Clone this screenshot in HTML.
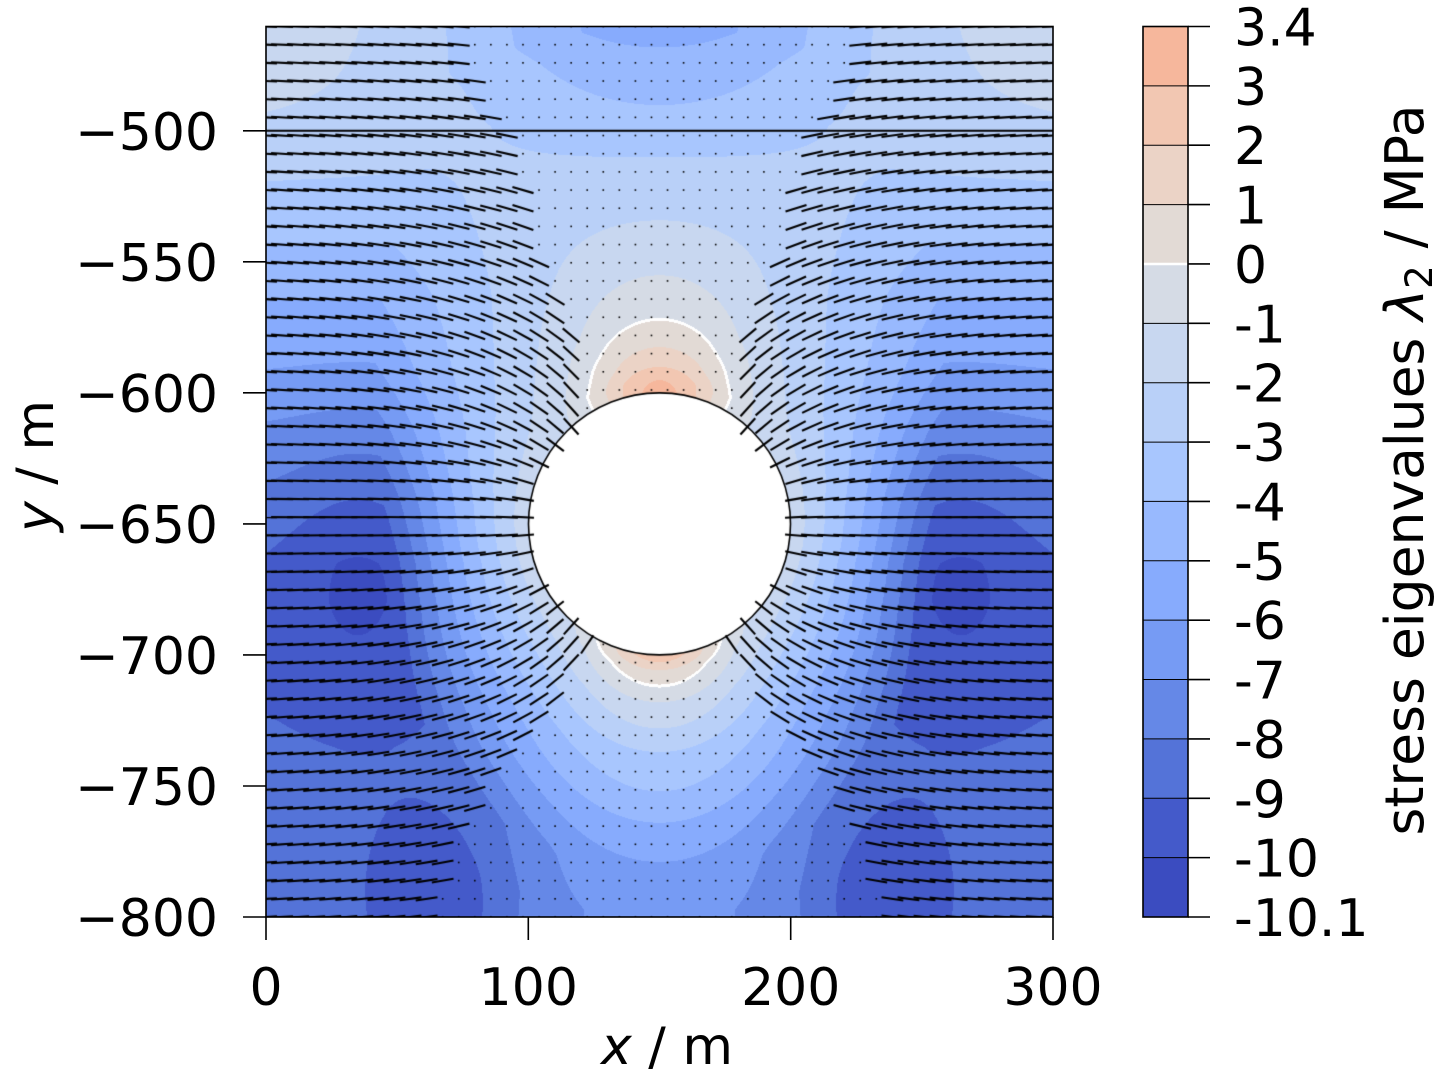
<!DOCTYPE html>
<html><head><meta charset="utf-8">
<style>
html,body{margin:0;padding:0;background:#fff;}
#wrap{position:relative;width:1447px;height:1080px;overflow:hidden;background:#fff;}
#cv{position:absolute;left:266px;top:26px;width:787px;height:891px;background:#8cafFc;}
svg{position:absolute;left:0;top:0;}
text{font-family:"DejaVu Sans","Liberation Sans",sans-serif;font-size:52px;fill:#000;}
</style></head>
<body><div id="wrap">
<canvas id="cv" width="787" height="891"></canvas>
<svg width="1447" height="1080" viewBox="0 0 1447 1080">
<rect x="266" y="26.5" width="787" height="890.5" fill="none" stroke="#000" stroke-width="1.6"/>
<g stroke="#000" stroke-width="1.6">
<line x1="243" y1="130.8" x2="266" y2="130.8"/>
<line x1="243" y1="261.8" x2="266" y2="261.8"/>
<line x1="243" y1="392.8" x2="266" y2="392.8"/>
<line x1="243" y1="523.9" x2="266" y2="523.9"/>
<line x1="243" y1="654.9" x2="266" y2="654.9"/>
<line x1="243" y1="786" x2="266" y2="786"/>
<line x1="243" y1="917" x2="266" y2="917"/>
<line x1="266" y1="917" x2="266" y2="940"/>
<line x1="528.3" y1="917" x2="528.3" y2="940"/>
<line x1="790.7" y1="917" x2="790.7" y2="940"/>
<line x1="1053" y1="917" x2="1053" y2="940"/>
</g>
<g text-anchor="end">
<text x="218" y="149.8">−500</text>
<text x="218" y="280.8">−550</text>
<text x="218" y="411.8">−600</text>
<text x="218" y="542.9">−650</text>
<text x="218" y="673.9">−700</text>
<text x="218" y="805">−750</text>
<text x="218" y="936">−800</text>
</g>
<g text-anchor="middle">
<text x="266" y="1005">0</text>
<text x="528.3" y="1005">100</text>
<text x="790.7" y="1005">200</text>
<text x="1053" y="1005">300</text>
<text x="667" y="1064"><tspan font-style="italic">x</tspan> / m</text>
</g>
<text transform="translate(53,466) rotate(-90)" text-anchor="middle"><tspan font-style="italic">y</tspan> / m</text>

<g>
<rect x="1143" y="26.5" width="45" height="59.37" fill="rgb(246,183,156)"/>
<rect x="1143" y="85.87" width="45" height="59.37" fill="rgb(242,199,178)"/>
<rect x="1143" y="145.23" width="45" height="59.37" fill="rgb(235,211,198)"/>
<rect x="1143" y="204.6" width="45" height="59.37" fill="rgb(226,218,213)"/>
<rect x="1143" y="263.97" width="45" height="59.37" fill="rgb(213,219,229)"/>
<rect x="1143" y="323.33" width="45" height="59.37" fill="rgb(200,215,240)"/>
<rect x="1143" y="382.7" width="45" height="59.37" fill="rgb(185,208,248)"/>
<rect x="1143" y="442.07" width="45" height="59.37" fill="rgb(168,198,254)"/>
<rect x="1143" y="501.43" width="45" height="59.37" fill="rgb(152,185,254)"/>
<rect x="1143" y="560.8" width="45" height="59.37" fill="rgb(135,171,253)"/>
<rect x="1143" y="620.17" width="45" height="59.37" fill="rgb(118,155,244)"/>
<rect x="1143" y="679.53" width="45" height="59.37" fill="rgb(101,136,231)"/>
<rect x="1143" y="738.9" width="45" height="59.37" fill="rgb(84,115,216)"/>
<rect x="1143" y="798.27" width="45" height="59.37" fill="rgb(68,90,202)"/>
<rect x="1143" y="857.63" width="45" height="59.37" fill="rgb(59,76,192)"/>
</g>
<g stroke="#000" stroke-width="1">
<line x1="1143" y1="85.87" x2="1188" y2="85.87"/>
<line x1="1143" y1="145.23" x2="1188" y2="145.23"/>
<line x1="1143" y1="204.6" x2="1188" y2="204.6"/>
<line x1="1143" y1="323.33" x2="1188" y2="323.33"/>
<line x1="1143" y1="382.7" x2="1188" y2="382.7"/>
<line x1="1143" y1="442.07" x2="1188" y2="442.07"/>
<line x1="1143" y1="501.43" x2="1188" y2="501.43"/>
<line x1="1143" y1="560.8" x2="1188" y2="560.8"/>
<line x1="1143" y1="620.17" x2="1188" y2="620.17"/>
<line x1="1143" y1="679.53" x2="1188" y2="679.53"/>
<line x1="1143" y1="738.9" x2="1188" y2="738.9"/>
<line x1="1143" y1="798.27" x2="1188" y2="798.27"/>
<line x1="1143" y1="857.63" x2="1188" y2="857.63"/>
</g>
<line x1="1143" y1="263.97" x2="1188" y2="263.97" stroke="#fff" stroke-width="2.5"/>
<rect x="1143" y="26.5" width="45" height="890.5" fill="none" stroke="#000" stroke-width="1.6"/>
<g stroke="#000" stroke-width="1.6">
<line x1="1188" y1="26.5" x2="1210" y2="26.5"/>
<line x1="1188" y1="85.87" x2="1210" y2="85.87"/>
<line x1="1188" y1="145.23" x2="1210" y2="145.23"/>
<line x1="1188" y1="204.6" x2="1210" y2="204.6"/>
<line x1="1188" y1="263.97" x2="1210" y2="263.97"/>
<line x1="1188" y1="323.33" x2="1210" y2="323.33"/>
<line x1="1188" y1="382.7" x2="1210" y2="382.7"/>
<line x1="1188" y1="442.07" x2="1210" y2="442.07"/>
<line x1="1188" y1="501.43" x2="1210" y2="501.43"/>
<line x1="1188" y1="560.8" x2="1210" y2="560.8"/>
<line x1="1188" y1="620.17" x2="1210" y2="620.17"/>
<line x1="1188" y1="679.53" x2="1210" y2="679.53"/>
<line x1="1188" y1="738.9" x2="1210" y2="738.9"/>
<line x1="1188" y1="798.27" x2="1210" y2="798.27"/>
<line x1="1188" y1="857.63" x2="1210" y2="857.63"/>
<line x1="1188" y1="917" x2="1210" y2="917"/>
</g>
<g text-anchor="start">
<text x="1234" y="45.5">3.4</text>
<text x="1234" y="104.9">3</text>
<text x="1234" y="164.2">2</text>
<text x="1234" y="223.6">1</text>
<text x="1234" y="283">0</text>
<text x="1234" y="342.3">-1</text>
<text x="1234" y="401.7">-2</text>
<text x="1234" y="461.1">-3</text>
<text x="1234" y="520.4">-4</text>
<text x="1234" y="579.8">-5</text>
<text x="1234" y="639.2">-6</text>
<text x="1234" y="698.5">-7</text>
<text x="1234" y="757.9">-8</text>
<text x="1234" y="817.3">-9</text>
<text x="1234" y="876.6">-10</text>
<text x="1234" y="936">-10.1</text>
</g>
<text transform="translate(1423,470) rotate(-90)" text-anchor="middle" style="font-size:53.5px">stress eigenvalues <tspan font-style="italic">λ</tspan><tspan style="font-size:37px" dy="9">2</tspan><tspan dy="-9"> / MPa</tspan></text>
</svg>
</div>
<script>
(function(){
var cv=document.getElementById('cv');
var ctx=cv.getContext('2d');
var W=787,H=891;
var sy=890.5/340, sx=787/300;
var CX=659.5-266, CY=523.9-26, R=131;
function interp(p,x){if(x<=p[0][0])return p[0][1];for(var k=1;k<p.length;k++){if(x<=p[k][0]){var a=p[k-1],b=p[k];return a[1]+(b[1]-a[1])*(x-a[0])/(b[0]-a[0]);}}return p[p.length-1][1];}
var Ep=[[-800,-8.4],[-735,-8.7],[-720,-8.9],[-680,-8.9],[-665,-8.8],[-640,-8],[-613,-7],[-592,-6],[-564,-5],[-543,-4],[-520,-3],[-498,-2],[-480,-1.5],[-460,-1.0]];
var Tp=[[0,3.4],[5,3],[10,2],[17.6,1],[28,0],[45,-1],[66,-2],[90,-3],[110,-4],[132,-5],[140,-5.5],[200,-6]];
var Bp=[[0,2.7],[2.7,2],[5.7,1],[12,0],[18,-1],[28,-2],[37,-3],[52,-4],[64,-5],[79,-6],[100,-6.7],[200,-7]];
function field(X,Y){
  var u=X-150,v=Y+650,r=Math.sqrt(u*u+v*v),d=r-50;if(d<0)d=0;
  var E=interp(Ep,Y);
  var rim=-1.3;
  var c=Math.abs(v)/(r||1);
  var Lg=v>=0?(55+80*c*c):(55+30*c*c);
  var g=Math.max(0,1-d/Lg);
  var Sd=E+(rim-E)*g;
  var V=v>=0?interp(Tp,d):interp(Bp,d);
  var n=6+3*Math.exp(-d/8)+5*(1-Math.exp(-d/100));
  var w=1-Math.pow(c,n);
  var f=(1-w)*V+w*Sd;
  f+=-1.9*Math.exp(-Math.pow((X-65)/28,2)-Math.pow((Y+800)/40,2));
  f+=-1.9*Math.exp(-Math.pow((X-235)/28,2)-Math.pow((Y+800)/40,2));
  f+=-1.3*Math.exp(-Math.pow((X-35)/30,2)-Math.pow((Y+670)/55,2));
  f+=-1.3*Math.exp(-Math.pow((X-265)/30,2)-Math.pow((Y+670)/55,2));
  return f;
}
var cols=[[59,76,192],[68,90,202],[84,115,216],[101,136,231],[118,155,244],[135,171,253],[152,185,254],[168,198,254],[185,208,248],[200,215,240],[213,219,229],[226,218,213],[235,211,198],[242,199,178],[246,183,156]];
var F=new Float32Array(W*H), hole=new Uint8Array(W*H), M=new Uint8Array(W*H);
for(var y=0;y<H;y++){
  var Y=-800+(917-(26+y+0.5))/sy;
  for(var x=0;x<W;x++){
    var i=y*W+x;
    var dx=x+0.5-CX,dy=y+0.5-CY;
    if(dx*dx+dy*dy<R*R){hole[i]=1;F[i]=0;continue;}
    F[i]=field((x+0.5)/sx,Y);
  }
}
for(var y=1;y<H-1;y++){for(var x=1;x<W-1;x++){var i=y*W+x;if(hole[i])continue;var s=F[i]>=0;
  if(!hole[i+1]&&((F[i+1]>=0)!==s)){M[i]=1;M[i+1]=1;M[i-1]=1;}
  if(!hole[i+W]&&((F[i+W]>=0)!==s)){M[i]=1;M[i+W]=1;M[i-W]=1;}
}}
var img=ctx.createImageData(W,H),D=img.data;
for(var i=0;i<W*H;i++){
  var c;
  if(hole[i]||M[i]){c=[255,255,255];}
  else{var f=F[i];var k;if(f<-10)k=0;else if(f>=3)k=14;else k=Math.floor(f)+11;if(k<0)k=0;if(k>14)k=14;c=cols[k];}
  D[4*i]=c[0];D[4*i+1]=c[1];D[4*i+2]=c[2];D[4*i+3]=255;
}
ctx.putImageData(img,0,0);
ctx.beginPath();ctx.arc(CX,CY,R,0,Math.PI*2);ctx.fillStyle='#fff';ctx.fill();ctx.lineWidth=1.6;ctx.strokeStyle='#000';ctx.stroke();
ctx.beginPath();ctx.moveTo(0,130.8-26);ctx.lineTo(W,130.8-26);ctx.lineWidth=2;ctx.strokeStyle='#000';ctx.stroke();
var L=[10,10,11,11,11,12,13,13,14,15,16,17,18,18,19,20,19,18,17,16,16,16,16,16,16,17,18,19,19,19,19,19,19,18,18,17,17,16,16,16,16,15,15,15,14,13,13,12,12,12];
ctx.lineWidth=2.1;ctx.strokeStyle='#000';ctx.fillStyle='#000';ctx.lineCap='butt';
var half=11;
for(var j=0;j<50;j++){
  var py=917-j*890.5/49-26;
  for(var q=0;q<50;q++){
    var px=q*787/49;
    var dx=px-CX,dy=py-CY,r=Math.sqrt(dx*dx+dy*dy);
    if(r<R)continue;
    if(q<=L[j]||q>=49-L[j]){
      var a=Math.atan(dy/(dx===0?1e-6:dx));
      var t=a*Math.min(1,Math.exp(-(r-R)/160));
      var ex=Math.cos(t)*half,ey=Math.sin(t)*half;
      ctx.beginPath();ctx.moveTo(px-ex,py-ey);ctx.lineTo(px+ex,py+ey);ctx.stroke();
    }else{
      ctx.fillRect(px-0.8,py-0.8,1.6,1.6);
    }
  }
}
})();
</script>
</body></html>
